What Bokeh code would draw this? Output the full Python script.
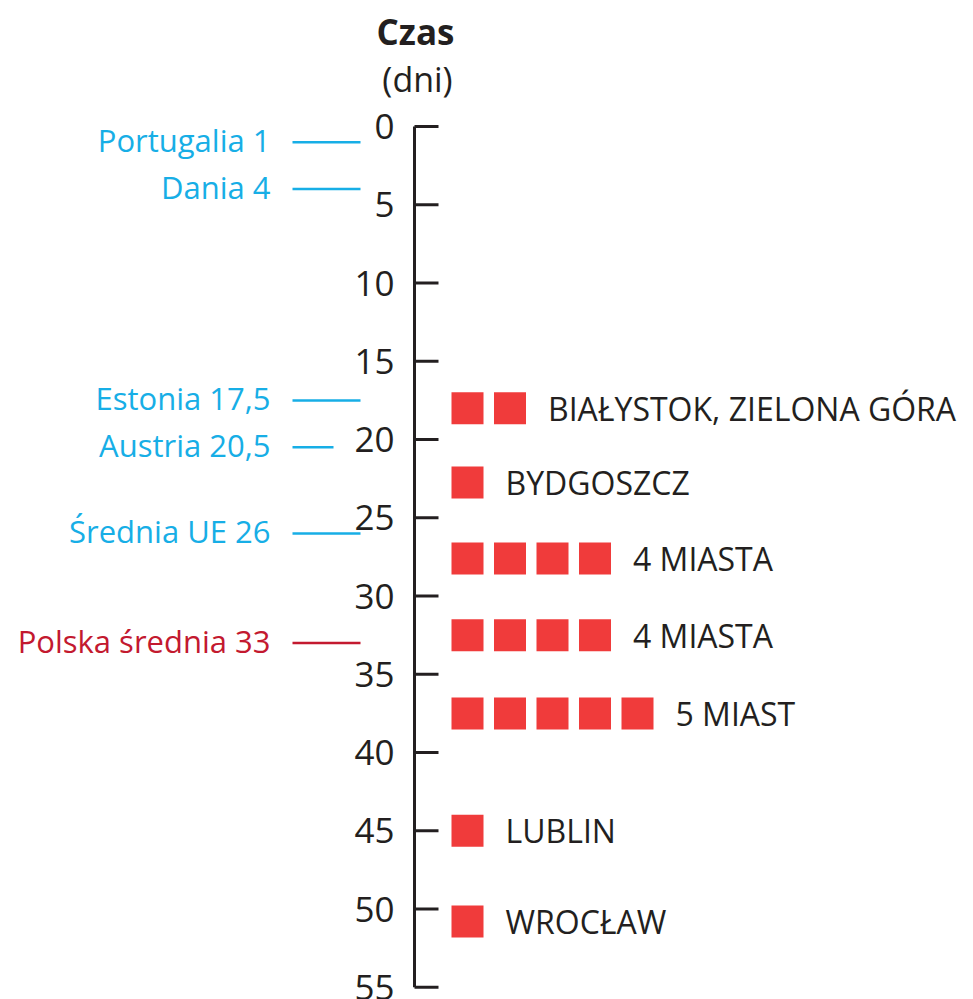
from bokeh.plotting import figure
from bokeh.models import Range1d
from bokeh.core.properties import value
from bokeh.embed import file_html
from bokeh.resources import INLINE

# ---- data ----
tick_values = [0, 5, 10, 15, 20, 25, 30, 35, 40, 45, 50, 55]
tick_labels = ["0", "5", "10", "15", "20", "25", "30", "35", "40", "45", "50", "55"]

ref_names = ["Portugalia 1", "Dania 4", "Estonia 17,5", "Austria 20,5", "Średnia UE 26", "Polska średnia 33"]
ref_values = [1, 4, 17.5, 20.5, 26, 33]
ref_is_poland = [False, False, False, False, False, True]

city_labels = ["BIAŁYSTOK, ZIELONA GÓRA", "BYDGOSZCZ", "4 MIASTA", "4 MIASTA", "5 MIAST", "LUBLIN", "WROCŁAW"]
city_days = [18, 22.75, 27.6, 32.5, 37.5, 45, 50.8]
city_counts = [2, 1, 4, 4, 5, 1, 1]

# ---- layout / style ----
W, H = 970, 999
PX_PER_DAY = 15.65
Y0 = 126  # screen y of day 0
def day_at(screen_y):
    return (screen_y - Y0) / PX_PER_DAY

BLUE = "#17AEE6"
RED_TXT = "#C3192F"
SQ_RED = "#F03B3B"
DARK = "#231F20"
FONT = "Open Sans"

p = figure(width=W, height=H, output_backend="svg", toolbar_location=None,
           x_range=Range1d(0, W), y_range=Range1d(day_at(H), day_at(0)),
           min_border=0, outline_line_color=None)
p.axis.visible = False
p.grid.visible = False
p.background_fill_color = "white"
p.border_fill_color = "white"

AX_X = 414
# axis line
p.segment(x0=[AX_X], y0=[tick_values[0]], x1=[AX_X], y1=[tick_values[-1]],
          line_color=DARK, line_width=3)
# ticks
p.segment(x0=[AX_X] * len(tick_values), y0=tick_values,
          x1=[AX_X + 24] * len(tick_values), y1=tick_values,
          line_color=DARK, line_width=3)
p.text(x=[394] * len(tick_values), y=tick_values, text=tick_labels,
       text_font=value(FONT), text_font_size="35px", text_color=DARK,
       text_align="right", text_baseline="middle")

# title
p.text(x=[415], y=[day_at(31)], text=["Czas"], text_font=value(FONT),
       text_font_style="bold", text_font_size="35px", text_color=DARK,
       text_align="center", text_baseline="middle")
p.text(x=[417], y=[day_at(78)], text=["(dni)"], text_font=value(FONT),
       text_font_size="34px", text_color=DARK,
       text_align="center", text_baseline="middle")

# reference lines (left)
line_x1 = [360 if "Austria" not in n else 333 for n in ref_names]
colors = [RED_TXT if pl else BLUE for pl in ref_is_poland]
p.segment(x0=[292] * len(ref_values), y0=ref_values, x1=line_x1, y1=ref_values,
          line_color=colors, line_width=2.5)
p.text(x=[270] * len(ref_values), y=ref_values, text=ref_names,
       text_font=value(FONT), text_font_size="31px", text_color=colors,
       text_align="right", text_baseline="middle", y_offset=-2)

# squares
SQ_X0 = 467
SQ_STEP = 42.5
SQ_SIZE = 32
sx, sy = [], []
lx, ly = [], []
for d, c in zip(city_days, city_counts):
    for i in range(c):
        sx.append(SQ_X0 + i * SQ_STEP)
        sy.append(d)
    lx.append(SQ_X0 + (c - 1) * SQ_STEP + SQ_SIZE / 2 + 22)
    ly.append(d)
p.scatter(x=sx, y=sy, marker="square", size=SQ_SIZE, fill_color=SQ_RED, line_color=None)
p.text(x=lx, y=ly, text=city_labels, text_font=value(FONT), text_font_size="32px",
       text_color=DARK, text_align="left", text_baseline="middle")

open("out.html", "w").write(file_html(p, INLINE))
